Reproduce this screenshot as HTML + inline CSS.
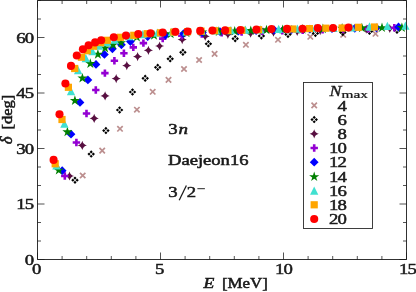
<!DOCTYPE html>
<html><head><meta charset="utf-8"><title>chart</title>
<style>html,body{margin:0;padding:0;background:#fff;}body{width:416px;height:292px;overflow:hidden;font-family:"Liberation Serif",serif;}svg{position:absolute;left:0;top:0;will-change:transform;}</style></head>
<body>
<svg width="416" height="292" viewBox="0 0 416 292" style="display:block">
<rect width="416" height="292" fill="#fff"/>
<g>
<path d="M80.00,172.80L85.40,178.20M80.00,178.20L85.40,172.80" stroke="#bc8f8f" stroke-width="1.7" fill="none"/>
<path d="M99.50,147.90L104.90,153.30M99.50,153.30L104.90,147.90" stroke="#bc8f8f" stroke-width="1.7" fill="none"/>
<path d="M117.30,126.10L122.70,131.50M117.30,131.50L122.70,126.10" stroke="#bc8f8f" stroke-width="1.7" fill="none"/>
<path d="M134.20,107.00L139.60,112.40M134.20,112.40L139.60,107.00" stroke="#bc8f8f" stroke-width="1.7" fill="none"/>
<path d="M150.00,89.10L155.40,94.50M150.00,94.50L155.40,89.10" stroke="#bc8f8f" stroke-width="1.7" fill="none"/>
<path d="M165.80,77.20L171.20,82.60M165.80,82.60L171.20,77.20" stroke="#bc8f8f" stroke-width="1.7" fill="none"/>
<path d="M181.30,66.30L186.70,71.70M181.30,71.70L186.70,66.30" stroke="#bc8f8f" stroke-width="1.7" fill="none"/>
<path d="M196.40,57.30L201.80,62.70M196.40,62.70L201.80,57.30" stroke="#bc8f8f" stroke-width="1.7" fill="none"/>
<path d="M211.90,51.20L217.30,56.60M211.90,56.60L217.30,51.20" stroke="#bc8f8f" stroke-width="1.7" fill="none"/>
<path d="M243.20,42.10L248.60,47.50M243.20,47.50L248.60,42.10" stroke="#bc8f8f" stroke-width="1.7" fill="none"/>
<path d="M275.30,37.10L280.70,42.50M275.30,42.50L280.70,37.10" stroke="#bc8f8f" stroke-width="1.7" fill="none"/>
<path d="M307.60,34.10L313.00,39.50M307.60,39.50L313.00,34.10" stroke="#bc8f8f" stroke-width="1.7" fill="none"/>
<path d="M340.50,32.10L345.90,37.50M340.50,37.50L345.90,32.10" stroke="#bc8f8f" stroke-width="1.7" fill="none"/>
<path d="M372.80,31.10L378.20,36.50M372.80,36.50L378.20,31.10" stroke="#bc8f8f" stroke-width="1.7" fill="none"/>
<path d="M75.00,176.45 L76.60,178.05 L75.00,179.65 L73.40,178.05ZM77.15,178.60 L78.75,180.20 L77.15,181.80 L75.55,180.20ZM75.00,180.75 L76.60,182.35 L75.00,183.95 L73.40,182.35ZM72.85,178.60 L74.45,180.20 L72.85,181.80 L71.25,180.20Z" fill="#000"/>
<path d="M91.20,150.35 L92.80,151.95 L91.20,153.55 L89.60,151.95ZM93.35,152.50 L94.95,154.10 L93.35,155.70 L91.75,154.10ZM91.20,154.65 L92.80,156.25 L91.20,157.85 L89.60,156.25ZM89.05,152.50 L90.65,154.10 L89.05,155.70 L87.45,154.10Z" fill="#000"/>
<path d="M105.90,126.85 L107.50,128.45 L105.90,130.05 L104.30,128.45ZM108.05,129.00 L109.65,130.60 L108.05,132.20 L106.45,130.60ZM105.90,131.15 L107.50,132.75 L105.90,134.35 L104.30,132.75ZM103.75,129.00 L105.35,130.60 L103.75,132.20 L102.15,130.60Z" fill="#000"/>
<path d="M119.60,106.25 L121.20,107.85 L119.60,109.45 L118.00,107.85ZM121.75,108.40 L123.35,110.00 L121.75,111.60 L120.15,110.00ZM119.60,110.55 L121.20,112.15 L119.60,113.75 L118.00,112.15ZM117.45,108.40 L119.05,110.00 L117.45,111.60 L115.85,110.00Z" fill="#000"/>
<path d="M132.50,88.25 L134.10,89.85 L132.50,91.45 L130.90,89.85ZM134.65,90.40 L136.25,92.00 L134.65,93.60 L133.05,92.00ZM132.50,92.55 L134.10,94.15 L132.50,95.75 L130.90,94.15ZM130.35,90.40 L131.95,92.00 L130.35,93.60 L128.75,92.00Z" fill="#000"/>
<path d="M145.20,74.55 L146.80,76.15 L145.20,77.75 L143.60,76.15ZM147.35,76.70 L148.95,78.30 L147.35,79.90 L145.75,78.30ZM145.20,78.85 L146.80,80.45 L145.20,82.05 L143.60,80.45ZM143.05,76.70 L144.65,78.30 L143.05,79.90 L141.45,78.30Z" fill="#000"/>
<path d="M157.70,63.55 L159.30,65.15 L157.70,66.75 L156.10,65.15ZM159.85,65.70 L161.45,67.30 L159.85,68.90 L158.25,67.30ZM157.70,67.85 L159.30,69.45 L157.70,71.05 L156.10,69.45ZM155.55,65.70 L157.15,67.30 L155.55,68.90 L153.95,67.30Z" fill="#000"/>
<path d="M170.20,55.05 L171.80,56.65 L170.20,58.25 L168.60,56.65ZM172.35,57.20 L173.95,58.80 L172.35,60.40 L170.75,58.80ZM170.20,59.35 L171.80,60.95 L170.20,62.55 L168.60,60.95ZM168.05,57.20 L169.65,58.80 L168.05,60.40 L166.45,58.80Z" fill="#000"/>
<path d="M182.90,48.55 L184.50,50.15 L182.90,51.75 L181.30,50.15ZM185.05,50.70 L186.65,52.30 L185.05,53.90 L183.45,52.30ZM182.90,52.85 L184.50,54.45 L182.90,56.05 L181.30,54.45ZM180.75,50.70 L182.35,52.30 L180.75,53.90 L179.15,52.30Z" fill="#000"/>
<path d="M208.40,40.05 L210.00,41.65 L208.40,43.25 L206.80,41.65ZM210.55,42.20 L212.15,43.80 L210.55,45.40 L208.95,43.80ZM208.40,44.35 L210.00,45.95 L208.40,47.55 L206.80,45.95ZM206.25,42.20 L207.85,43.80 L206.25,45.40 L204.65,43.80Z" fill="#000"/>
<path d="M235.20,34.95 L236.80,36.55 L235.20,38.15 L233.60,36.55ZM237.35,37.10 L238.95,38.70 L237.35,40.30 L235.75,38.70ZM235.20,39.25 L236.80,40.85 L235.20,42.45 L233.60,40.85ZM233.05,37.10 L234.65,38.70 L233.05,40.30 L231.45,38.70Z" fill="#000"/>
<path d="M261.40,32.15 L263.00,33.75 L261.40,35.35 L259.80,33.75ZM263.55,34.30 L265.15,35.90 L263.55,37.50 L261.95,35.90ZM261.40,36.45 L263.00,38.05 L261.40,39.65 L259.80,38.05ZM259.25,34.30 L260.85,35.90 L259.25,37.50 L257.65,35.90Z" fill="#000"/>
<path d="M288.00,30.65 L289.60,32.25 L288.00,33.85 L286.40,32.25ZM290.15,32.80 L291.75,34.40 L290.15,36.00 L288.55,34.40ZM288.00,34.95 L289.60,36.55 L288.00,38.15 L286.40,36.55ZM285.85,32.80 L287.45,34.40 L285.85,36.00 L284.25,34.40Z" fill="#000"/>
<path d="M315.40,29.65 L317.00,31.25 L315.40,32.85 L313.80,31.25ZM317.55,31.80 L319.15,33.40 L317.55,35.00 L315.95,33.40ZM315.40,33.95 L317.00,35.55 L315.40,37.15 L313.80,35.55ZM313.25,31.80 L314.85,33.40 L313.25,35.00 L311.65,33.40Z" fill="#000"/>
<path d="M342.80,28.65 L344.40,30.25 L342.80,31.85 L341.20,30.25ZM344.95,30.80 L346.55,32.40 L344.95,34.00 L343.35,32.40ZM342.80,32.95 L344.40,34.55 L342.80,36.15 L341.20,34.55ZM340.65,30.80 L342.25,32.40 L340.65,34.00 L339.05,32.40Z" fill="#000"/>
<path d="M369.50,27.55 L371.10,29.15 L369.50,30.75 L367.90,29.15ZM371.65,29.70 L373.25,31.30 L371.65,32.90 L370.05,31.30ZM369.50,31.85 L371.10,33.45 L369.50,35.05 L367.90,33.45ZM367.35,29.70 L368.95,31.30 L367.35,32.90 L365.75,31.30Z" fill="#000"/>
<path d="M397.00,26.55 L398.60,28.15 L397.00,29.75 L395.40,28.15ZM399.15,28.70 L400.75,30.30 L399.15,31.90 L397.55,30.30ZM397.00,30.85 L398.60,32.45 L397.00,34.05 L395.40,32.45ZM394.85,28.70 L396.45,30.30 L394.85,31.90 L393.25,30.30Z" fill="#000"/>
<path d="M69.50,171.40 Q70.40,175.10 74.10,176.00 Q70.40,176.90 69.50,180.60 Q68.60,176.90 64.90,176.00 Q68.60,175.10 69.50,171.40Z" fill="#580f41"/>
<path d="M82.30,140.80 Q83.20,144.50 86.90,145.40 Q83.20,146.30 82.30,150.00 Q81.40,146.30 77.70,145.40 Q81.40,144.50 82.30,140.80Z" fill="#580f41"/>
<path d="M94.20,113.80 Q95.10,117.50 98.80,118.40 Q95.10,119.30 94.20,123.00 Q93.30,119.30 89.60,118.40 Q93.30,117.50 94.20,113.80Z" fill="#580f41"/>
<path d="M105.10,91.30 Q106.00,95.00 109.70,95.90 Q106.00,96.80 105.10,100.50 Q104.20,96.80 100.50,95.90 Q104.20,95.00 105.10,91.30Z" fill="#580f41"/>
<path d="M116.20,74.00 Q117.10,77.70 120.80,78.60 Q117.10,79.50 116.20,83.20 Q115.30,79.50 111.60,78.60 Q115.30,77.70 116.20,74.00Z" fill="#580f41"/>
<path d="M126.80,61.00 Q127.70,64.70 131.40,65.60 Q127.70,66.50 126.80,70.20 Q125.90,66.50 122.20,65.60 Q125.90,64.70 126.80,61.00Z" fill="#580f41"/>
<path d="M137.60,52.00 Q138.50,55.70 142.20,56.60 Q138.50,57.50 137.60,61.20 Q136.70,57.50 133.00,56.60 Q136.70,55.70 137.60,52.00Z" fill="#580f41"/>
<path d="M148.40,45.70 Q149.30,49.40 153.00,50.30 Q149.30,51.20 148.40,54.90 Q147.50,51.20 143.80,50.30 Q147.50,49.40 148.40,45.70Z" fill="#580f41"/>
<path d="M159.60,41.40 Q160.50,45.10 164.20,46.00 Q160.50,46.90 159.60,50.60 Q158.70,46.90 155.00,46.00 Q158.70,45.10 159.60,41.40Z" fill="#580f41"/>
<path d="M182.20,35.00 Q183.10,38.70 186.80,39.60 Q183.10,40.50 182.20,44.20 Q181.30,40.50 177.60,39.60 Q181.30,38.70 182.20,35.00Z" fill="#580f41"/>
<path d="M205.20,31.70 Q206.10,35.40 209.80,36.30 Q206.10,37.20 205.20,40.90 Q204.30,37.20 200.60,36.30 Q204.30,35.40 205.20,31.70Z" fill="#580f41"/>
<path d="M227.90,29.70 Q228.80,33.40 232.50,34.30 Q228.80,35.20 227.90,38.90 Q227.00,35.20 223.30,34.30 Q227.00,33.40 227.90,29.70Z" fill="#580f41"/>
<path d="M250.60,28.60 Q251.50,32.30 255.20,33.20 Q251.50,34.10 250.60,37.80 Q249.70,34.10 246.00,33.20 Q249.70,32.30 250.60,28.60Z" fill="#580f41"/>
<path d="M273.50,27.60 Q274.40,31.30 278.10,32.20 Q274.40,33.10 273.50,36.80 Q272.60,33.10 268.90,32.20 Q272.60,31.30 273.50,27.60Z" fill="#580f41"/>
<path d="M297.20,26.80 Q298.10,30.50 301.80,31.40 Q298.10,32.30 297.20,36.00 Q296.30,32.30 292.60,31.40 Q296.30,30.50 297.20,26.80Z" fill="#580f41"/>
<path d="M320.20,26.00 Q321.10,29.70 324.80,30.60 Q321.10,31.50 320.20,35.20 Q319.30,31.50 315.60,30.60 Q319.30,29.70 320.20,26.00Z" fill="#580f41"/>
<path d="M343.50,25.30 Q344.40,29.00 348.10,29.90 Q344.40,30.80 343.50,34.50 Q342.60,30.80 338.90,29.90 Q342.60,29.00 343.50,25.30Z" fill="#580f41"/>
<path d="M366.20,24.60 Q367.10,28.30 370.80,29.20 Q367.10,30.10 366.20,33.80 Q365.30,30.10 361.60,29.20 Q365.30,28.30 366.20,24.60Z" fill="#580f41"/>
<path d="M389.80,23.90 Q390.70,27.60 394.40,28.50 Q390.70,29.40 389.80,33.10 Q388.90,29.40 385.20,28.50 Q388.90,27.60 389.80,23.90Z" fill="#580f41"/>
<path d="M63.50,172.30h2.6v2.4000000000000004h2.4000000000000004v2.6h-2.4000000000000004v2.4000000000000004h-2.6v-2.4000000000000004h-2.4000000000000004v-2.6h2.4000000000000004Z" fill="#9400d3"/>
<path d="M75.10,138.80h2.6v2.4000000000000004h2.4000000000000004v2.6h-2.4000000000000004v2.4000000000000004h-2.6v-2.4000000000000004h-2.4000000000000004v-2.6h2.4000000000000004Z" fill="#9400d3"/>
<path d="M85.20,109.80h2.6v2.4000000000000004h2.4000000000000004v2.6h-2.4000000000000004v2.4000000000000004h-2.6v-2.4000000000000004h-2.4000000000000004v-2.6h2.4000000000000004Z" fill="#9400d3"/>
<path d="M94.50,86.30h2.6v2.4000000000000004h2.4000000000000004v2.6h-2.4000000000000004v2.4000000000000004h-2.6v-2.4000000000000004h-2.4000000000000004v-2.6h2.4000000000000004Z" fill="#9400d3"/>
<path d="M103.60,69.40h2.6v2.4000000000000004h2.4000000000000004v2.6h-2.4000000000000004v2.4000000000000004h-2.6v-2.4000000000000004h-2.4000000000000004v-2.6h2.4000000000000004Z" fill="#9400d3"/>
<path d="M113.10,57.10h2.6v2.4000000000000004h2.4000000000000004v2.6h-2.4000000000000004v2.4000000000000004h-2.6v-2.4000000000000004h-2.4000000000000004v-2.6h2.4000000000000004Z" fill="#9400d3"/>
<path d="M122.60,49.50h2.6v2.4000000000000004h2.4000000000000004v2.6h-2.4000000000000004v2.4000000000000004h-2.6v-2.4000000000000004h-2.4000000000000004v-2.6h2.4000000000000004Z" fill="#9400d3"/>
<path d="M132.00,43.70h2.6v2.4000000000000004h2.4000000000000004v2.6h-2.4000000000000004v2.4000000000000004h-2.6v-2.4000000000000004h-2.4000000000000004v-2.6h2.4000000000000004Z" fill="#9400d3"/>
<path d="M142.10,39.40h2.6v2.4000000000000004h2.4000000000000004v2.6h-2.4000000000000004v2.4000000000000004h-2.6v-2.4000000000000004h-2.4000000000000004v-2.6h2.4000000000000004Z" fill="#9400d3"/>
<path d="M161.40,34.90h2.6v2.4000000000000004h2.4000000000000004v2.6h-2.4000000000000004v2.4000000000000004h-2.6v-2.4000000000000004h-2.4000000000000004v-2.6h2.4000000000000004Z" fill="#9400d3"/>
<path d="M180.50,32.10h2.6v2.4000000000000004h2.4000000000000004v2.6h-2.4000000000000004v2.4000000000000004h-2.6v-2.4000000000000004h-2.4000000000000004v-2.6h2.4000000000000004Z" fill="#9400d3"/>
<path d="M200.50,30.30h2.6v2.4000000000000004h2.4000000000000004v2.6h-2.4000000000000004v2.4000000000000004h-2.6v-2.4000000000000004h-2.4000000000000004v-2.6h2.4000000000000004Z" fill="#9400d3"/>
<path d="M220.40,29.20h2.6v2.4000000000000004h2.4000000000000004v2.6h-2.4000000000000004v2.4000000000000004h-2.6v-2.4000000000000004h-2.4000000000000004v-2.6h2.4000000000000004Z" fill="#9400d3"/>
<path d="M240.30,28.40h2.6v2.4000000000000004h2.4000000000000004v2.6h-2.4000000000000004v2.4000000000000004h-2.6v-2.4000000000000004h-2.4000000000000004v-2.6h2.4000000000000004Z" fill="#9400d3"/>
<path d="M261.00,27.70h2.6v2.4000000000000004h2.4000000000000004v2.6h-2.4000000000000004v2.4000000000000004h-2.6v-2.4000000000000004h-2.4000000000000004v-2.6h2.4000000000000004Z" fill="#9400d3"/>
<path d="M281.00,27.10h2.6v2.4000000000000004h2.4000000000000004v2.6h-2.4000000000000004v2.4000000000000004h-2.6v-2.4000000000000004h-2.4000000000000004v-2.6h2.4000000000000004Z" fill="#9400d3"/>
<path d="M301.40,26.60h2.6v2.4000000000000004h2.4000000000000004v2.6h-2.4000000000000004v2.4000000000000004h-2.6v-2.4000000000000004h-2.4000000000000004v-2.6h2.4000000000000004Z" fill="#9400d3"/>
<path d="M321.30,26.10h2.6v2.4000000000000004h2.4000000000000004v2.6h-2.4000000000000004v2.4000000000000004h-2.6v-2.4000000000000004h-2.4000000000000004v-2.6h2.4000000000000004Z" fill="#9400d3"/>
<path d="M342.00,25.70h2.6v2.4000000000000004h2.4000000000000004v2.6h-2.4000000000000004v2.4000000000000004h-2.6v-2.4000000000000004h-2.4000000000000004v-2.6h2.4000000000000004Z" fill="#9400d3"/>
<path d="M367.10,25.10h2.6v2.4000000000000004h2.4000000000000004v2.6h-2.4000000000000004v2.4000000000000004h-2.6v-2.4000000000000004h-2.4000000000000004v-2.6h2.4000000000000004Z" fill="#9400d3"/>
<path d="M393.00,24.10h2.6v2.4000000000000004h2.4000000000000004v2.6h-2.4000000000000004v2.4000000000000004h-2.6v-2.4000000000000004h-2.4000000000000004v-2.6h2.4000000000000004Z" fill="#9400d3"/>
<path d="M62.20,166.30 L66.60,170.70 L62.20,175.10 L57.80,170.70Z" fill="#0000ff"/>
<path d="M71.00,129.80 L75.40,134.20 L71.00,138.60 L66.60,134.20Z" fill="#0000ff"/>
<path d="M80.00,98.00 L84.40,102.40 L80.00,106.80 L75.60,102.40Z" fill="#0000ff"/>
<path d="M87.90,75.50 L92.30,79.90 L87.90,84.30 L83.50,79.90Z" fill="#0000ff"/>
<path d="M96.00,60.00 L100.40,64.40 L96.00,68.80 L91.60,64.40Z" fill="#0000ff"/>
<path d="M104.40,50.00 L108.80,54.40 L104.40,58.80 L100.00,54.40Z" fill="#0000ff"/>
<path d="M112.40,44.40 L116.80,48.80 L112.40,53.20 L108.00,48.80Z" fill="#0000ff"/>
<path d="M121.40,40.40 L125.80,44.80 L121.40,49.20 L117.00,44.80Z" fill="#0000ff"/>
<path d="M130.40,37.20 L134.80,41.60 L130.40,46.00 L126.00,41.60Z" fill="#0000ff"/>
<path d="M147.70,32.30 L152.10,36.70 L147.70,41.10 L143.30,36.70Z" fill="#0000ff"/>
<path d="M165.60,30.60 L170.00,35.00 L165.60,39.40 L161.20,35.00Z" fill="#0000ff"/>
<path d="M183.50,29.30 L187.90,33.70 L183.50,38.10 L179.10,33.70Z" fill="#0000ff"/>
<path d="M202.40,28.10 L206.80,32.50 L202.40,36.90 L198.00,32.50Z" fill="#0000ff"/>
<path d="M220.00,27.30 L224.40,31.70 L220.00,36.10 L215.60,31.70Z" fill="#0000ff"/>
<path d="M238.40,26.70 L242.80,31.10 L238.40,35.50 L234.00,31.10Z" fill="#0000ff"/>
<path d="M256.10,26.10 L260.50,30.50 L256.10,34.90 L251.70,30.50Z" fill="#0000ff"/>
<path d="M274.10,25.60 L278.50,30.00 L274.10,34.40 L269.70,30.00Z" fill="#0000ff"/>
<path d="M291.60,25.20 L296.00,29.60 L291.60,34.00 L287.20,29.60Z" fill="#0000ff"/>
<path d="M309.90,24.80 L314.30,29.20 L309.90,33.60 L305.50,29.20Z" fill="#0000ff"/>
<path d="M332.00,24.30 L336.40,28.70 L332.00,33.10 L327.60,28.70Z" fill="#0000ff"/>
<path d="M354.80,23.90 L359.20,28.30 L354.80,32.70 L350.40,28.30Z" fill="#0000ff"/>
<path d="M376.40,23.40 L380.80,27.80 L376.40,32.20 L372.00,27.80Z" fill="#0000ff"/>
<path d="M398.50,22.60 L402.90,27.00 L398.50,31.40 L394.10,27.00Z" fill="#0000ff"/>
<path d="M58.80,165.00 L60.00,168.64 L63.84,168.66 L60.75,170.93 L61.92,174.59 L58.80,172.35 L55.68,174.59 L56.85,170.93 L53.76,168.66 L57.60,168.64Z" fill="#008000"/>
<path d="M67.40,126.70 L68.60,130.34 L72.44,130.36 L69.35,132.63 L70.52,136.29 L67.40,134.05 L64.28,136.29 L65.45,132.63 L62.36,130.36 L66.20,130.34Z" fill="#008000"/>
<path d="M74.90,95.30 L76.10,98.94 L79.94,98.96 L76.85,101.23 L78.02,104.89 L74.90,102.65 L71.78,104.89 L72.95,101.23 L69.86,98.96 L73.70,98.94Z" fill="#008000"/>
<path d="M82.40,72.90 L83.60,76.54 L87.44,76.56 L84.35,78.83 L85.52,82.49 L82.40,80.25 L79.28,82.49 L80.45,78.83 L77.36,76.56 L81.20,76.54Z" fill="#008000"/>
<path d="M90.30,58.30 L91.50,61.94 L95.34,61.96 L92.25,64.23 L93.42,67.89 L90.30,65.65 L87.18,67.89 L88.35,64.23 L85.26,61.96 L89.10,61.94Z" fill="#008000"/>
<path d="M97.90,49.10 L99.10,52.74 L102.94,52.76 L99.85,55.03 L101.02,58.69 L97.90,56.45 L94.78,58.69 L95.95,55.03 L92.86,52.76 L96.70,52.74Z" fill="#008000"/>
<path d="M105.10,42.80 L106.30,46.44 L110.14,46.46 L107.05,48.73 L108.22,52.39 L105.10,50.15 L101.98,52.39 L103.15,48.73 L100.06,46.46 L103.90,46.44Z" fill="#008000"/>
<path d="M113.10,39.60 L114.30,43.24 L118.14,43.26 L115.05,45.53 L116.22,49.19 L113.10,46.95 L109.98,49.19 L111.15,45.53 L108.06,43.26 L111.90,43.24Z" fill="#008000"/>
<path d="M121.00,37.50 L122.20,41.14 L126.04,41.16 L122.95,43.43 L124.12,47.09 L121.00,44.85 L117.88,47.09 L119.05,43.43 L115.96,41.16 L119.80,41.14Z" fill="#008000"/>
<path d="M136.90,31.90 L138.10,35.54 L141.94,35.56 L138.85,37.83 L140.02,41.49 L136.90,39.25 L133.78,41.49 L134.95,37.83 L131.86,35.56 L135.70,35.54Z" fill="#008000"/>
<path d="M154.00,30.10 L155.20,33.74 L159.04,33.76 L155.95,36.03 L157.12,39.69 L154.00,37.45 L150.88,39.69 L152.05,36.03 L148.96,33.76 L152.80,33.74Z" fill="#008000"/>
<path d="M170.70,28.70 L171.90,32.34 L175.74,32.36 L172.65,34.63 L173.82,38.29 L170.70,36.05 L167.58,38.29 L168.75,34.63 L165.66,32.36 L169.50,32.34Z" fill="#008000"/>
<path d="M186.50,27.70 L187.70,31.34 L191.54,31.36 L188.45,33.63 L189.62,37.29 L186.50,35.05 L183.38,37.29 L184.55,33.63 L181.46,31.36 L185.30,31.34Z" fill="#008000"/>
<path d="M202.30,26.80 L203.50,30.44 L207.34,30.46 L204.25,32.73 L205.42,36.39 L202.30,34.15 L199.18,36.39 L200.35,32.73 L197.26,30.46 L201.10,30.44Z" fill="#008000"/>
<path d="M218.80,26.30 L220.00,29.94 L223.84,29.96 L220.75,32.23 L221.92,35.89 L218.80,33.65 L215.68,35.89 L216.85,32.23 L213.76,29.96 L217.60,29.94Z" fill="#008000"/>
<path d="M234.70,25.90 L235.90,29.54 L239.74,29.56 L236.65,31.83 L237.82,35.49 L234.70,33.25 L231.58,35.49 L232.75,31.83 L229.66,29.56 L233.50,29.54Z" fill="#008000"/>
<path d="M250.80,25.40 L252.00,29.04 L255.84,29.06 L252.75,31.33 L253.92,34.99 L250.80,32.75 L247.68,34.99 L248.85,31.33 L245.76,29.06 L249.60,29.04Z" fill="#008000"/>
<path d="M266.50,24.70 L267.70,28.34 L271.54,28.36 L268.45,30.63 L269.62,34.29 L266.50,32.05 L263.38,34.29 L264.55,30.63 L261.46,28.36 L265.30,28.34Z" fill="#008000"/>
<path d="M282.70,24.40 L283.90,28.04 L287.74,28.06 L284.65,30.33 L285.82,33.99 L282.70,31.75 L279.58,33.99 L280.75,30.33 L277.66,28.06 L281.50,28.04Z" fill="#008000"/>
<path d="M302.50,24.10 L303.70,27.74 L307.54,27.76 L304.45,30.03 L305.62,33.69 L302.50,31.45 L299.38,33.69 L300.55,30.03 L297.46,27.76 L301.30,27.74Z" fill="#008000"/>
<path d="M322.90,23.60 L324.10,27.24 L327.94,27.26 L324.85,29.53 L326.02,33.19 L322.90,30.95 L319.78,33.19 L320.95,29.53 L317.86,27.26 L321.70,27.24Z" fill="#008000"/>
<path d="M342.10,23.10 L343.30,26.74 L347.14,26.76 L344.05,29.03 L345.22,32.69 L342.10,30.45 L338.98,32.69 L340.15,29.03 L337.06,26.76 L340.90,26.74Z" fill="#008000"/>
<path d="M361.90,22.70 L363.10,26.34 L366.94,26.36 L363.85,28.63 L365.02,32.29 L361.90,30.05 L358.78,32.29 L359.95,28.63 L356.86,26.36 L360.70,26.34Z" fill="#008000"/>
<path d="M382.00,22.50 L383.20,26.14 L387.04,26.16 L383.95,28.43 L385.12,32.09 L382.00,29.85 L378.88,32.09 L380.05,28.43 L376.96,26.16 L380.80,26.14Z" fill="#008000"/>
<path d="M401.90,22.40 L403.10,26.04 L406.94,26.06 L403.85,28.33 L405.02,31.99 L401.90,29.75 L398.78,31.99 L399.95,28.33 L396.86,26.06 L400.70,26.04Z" fill="#008000"/>
<path d="M56.40,161.25 L60.55,169.55 L52.25,169.55Z" fill="#40e0d0"/>
<path d="M64.40,119.55 L68.55,127.85 L60.25,127.85Z" fill="#40e0d0"/>
<path d="M71.00,86.95 L75.15,95.25 L66.85,95.25Z" fill="#40e0d0"/>
<path d="M78.10,66.05 L82.25,74.35 L73.95,74.35Z" fill="#40e0d0"/>
<path d="M85.80,53.85 L89.95,62.15 L81.65,62.15Z" fill="#40e0d0"/>
<path d="M92.40,46.85 L96.55,55.15 L88.25,55.15Z" fill="#40e0d0"/>
<path d="M99.30,41.35 L103.45,49.65 L95.15,49.65Z" fill="#40e0d0"/>
<path d="M107.20,37.85 L111.35,46.15 L103.05,46.15Z" fill="#40e0d0"/>
<path d="M114.60,35.35 L118.75,43.65 L110.45,43.65Z" fill="#40e0d0"/>
<path d="M129.10,32.05 L133.25,40.35 L124.95,40.35Z" fill="#40e0d0"/>
<path d="M142.80,30.05 L146.95,38.35 L138.65,38.35Z" fill="#40e0d0"/>
<path d="M157.40,28.45 L161.55,36.75 L153.25,36.75Z" fill="#40e0d0"/>
<path d="M171.90,27.65 L176.05,35.95 L167.75,35.95Z" fill="#40e0d0"/>
<path d="M186.40,27.15 L190.55,35.45 L182.25,35.45Z" fill="#40e0d0"/>
<path d="M201.50,26.55 L205.65,34.85 L197.35,34.85Z" fill="#40e0d0"/>
<path d="M216.10,26.15 L220.25,34.45 L211.95,34.45Z" fill="#40e0d0"/>
<path d="M230.90,25.95 L235.05,34.25 L226.75,34.25Z" fill="#40e0d0"/>
<path d="M245.40,25.55 L249.55,33.85 L241.25,33.85Z" fill="#40e0d0"/>
<path d="M260.40,25.15 L264.55,33.45 L256.25,33.45Z" fill="#40e0d0"/>
<path d="M278.70,24.65 L282.85,32.95 L274.55,32.95Z" fill="#40e0d0"/>
<path d="M297.40,24.45 L301.55,32.75 L293.25,32.75Z" fill="#40e0d0"/>
<path d="M315.20,23.75 L319.35,32.05 L311.05,32.05Z" fill="#40e0d0"/>
<path d="M333.40,23.75 L337.55,32.05 L329.25,32.05Z" fill="#40e0d0"/>
<path d="M351.60,23.25 L355.75,31.55 L347.45,31.55Z" fill="#40e0d0"/>
<path d="M369.50,22.35 L373.65,30.65 L365.35,30.65Z" fill="#40e0d0"/>
<path d="M387.40,21.65 L391.55,29.95 L383.25,29.95Z" fill="#40e0d0"/>
<path d="M405.40,21.45 L409.55,29.75 L401.25,29.75Z" fill="#40e0d0"/>
<rect x="51.60" y="160.20" width="7.2" height="7.2" fill="#ffa500"/>
<rect x="58.40" y="115.90" width="7.2" height="7.2" fill="#ffa500"/>
<rect x="64.80" y="83.70" width="7.2" height="7.2" fill="#ffa500"/>
<rect x="71.10" y="64.90" width="7.2" height="7.2" fill="#ffa500"/>
<rect x="77.80" y="53.60" width="7.2" height="7.2" fill="#ffa500"/>
<rect x="83.70" y="47.10" width="7.2" height="7.2" fill="#ffa500"/>
<rect x="90.00" y="42.60" width="7.2" height="7.2" fill="#ffa500"/>
<rect x="97.10" y="39.00" width="7.2" height="7.2" fill="#ffa500"/>
<rect x="103.70" y="36.70" width="7.2" height="7.2" fill="#ffa500"/>
<rect x="116.90" y="33.70" width="7.2" height="7.2" fill="#ffa500"/>
<rect x="130.20" y="31.70" width="7.2" height="7.2" fill="#ffa500"/>
<rect x="143.60" y="30.10" width="7.2" height="7.2" fill="#ffa500"/>
<rect x="156.90" y="29.20" width="7.2" height="7.2" fill="#ffa500"/>
<rect x="170.20" y="28.50" width="7.2" height="7.2" fill="#ffa500"/>
<rect x="184.00" y="28.10" width="7.2" height="7.2" fill="#ffa500"/>
<rect x="197.40" y="27.50" width="7.2" height="7.2" fill="#ffa500"/>
<rect x="211.00" y="27.10" width="7.2" height="7.2" fill="#ffa500"/>
<rect x="224.30" y="26.90" width="7.2" height="7.2" fill="#ffa500"/>
<rect x="238.20" y="26.70" width="7.2" height="7.2" fill="#ffa500"/>
<rect x="255.00" y="26.10" width="7.2" height="7.2" fill="#ffa500"/>
<rect x="289.20" y="25.40" width="7.2" height="7.2" fill="#ffa500"/>
<rect x="305.80" y="25.00" width="7.2" height="7.2" fill="#ffa500"/>
<rect x="322.30" y="24.60" width="7.2" height="7.2" fill="#ffa500"/>
<rect x="338.50" y="24.40" width="7.2" height="7.2" fill="#ffa500"/>
<rect x="354.70" y="23.70" width="7.2" height="7.2" fill="#ffa500"/>
<rect x="370.90" y="23.40" width="7.2" height="7.2" fill="#ffa500"/>
<circle cx="53.6" cy="159.9" r="4.05" fill="#ff0000"/>
<circle cx="59.5" cy="114.3" r="4.05" fill="#ff0000"/>
<circle cx="65.4" cy="83.5" r="4.05" fill="#ff0000"/>
<circle cx="71" cy="65.9" r="4.05" fill="#ff0000"/>
<circle cx="76.8" cy="55.5" r="4.05" fill="#ff0000"/>
<circle cx="82.9" cy="49.3" r="4.05" fill="#ff0000"/>
<circle cx="88.6" cy="45.2" r="4.05" fill="#ff0000"/>
<circle cx="95.1" cy="42.4" r="4.05" fill="#ff0000"/>
<circle cx="101.2" cy="40.2" r="4.05" fill="#ff0000"/>
<circle cx="113.8" cy="37.3" r="4.05" fill="#ff0000"/>
<circle cx="126" cy="35.6" r="4.05" fill="#ff0000"/>
<circle cx="138.3" cy="34.1" r="4.05" fill="#ff0000"/>
<circle cx="150.5" cy="33.3" r="4.05" fill="#ff0000"/>
<circle cx="162.7" cy="32.5" r="4.05" fill="#ff0000"/>
<circle cx="175.4" cy="31.8" r="4.05" fill="#ff0000"/>
<circle cx="187.7" cy="31.5" r="4.05" fill="#ff0000"/>
<circle cx="200.2" cy="30.9" r="4.05" fill="#ff0000"/>
<circle cx="212.4" cy="30.5" r="4.05" fill="#ff0000"/>
<circle cx="225.1" cy="30.4" r="4.05" fill="#ff0000"/>
<circle cx="240.5" cy="30.1" r="4.05" fill="#ff0000"/>
<circle cx="256.4" cy="29.6" r="4.05" fill="#ff0000"/>
<circle cx="271.5" cy="29.1" r="4.05" fill="#ff0000"/>
<circle cx="287" cy="28.9" r="4.05" fill="#ff0000"/>
<circle cx="302.5" cy="28.7" r="4.05" fill="#ff0000"/>
<circle cx="317.8" cy="28" r="4.05" fill="#ff0000"/>
<circle cx="333.1" cy="28" r="4.05" fill="#ff0000"/>
<circle cx="348.5" cy="27.6" r="4.05" fill="#ff0000"/>
</g>
<path d="M37.5,0.5V259.5H406.5V0.5Z" stroke="#1a1a1a" stroke-width="0.9" fill="none"/>
<path d="M37.50,259.5v-7M37.50,0.5v7M62.10,259.5v-3.5M62.10,0.5v3.5M86.70,259.5v-3.5M86.70,0.5v3.5M111.30,259.5v-3.5M111.30,0.5v3.5M135.90,259.5v-3.5M135.90,0.5v3.5M160.50,259.5v-7M160.50,0.5v7M185.10,259.5v-3.5M185.10,0.5v3.5M209.70,259.5v-3.5M209.70,0.5v3.5M234.30,259.5v-3.5M234.30,0.5v3.5M258.90,259.5v-3.5M258.90,0.5v3.5M283.50,259.5v-7M283.50,0.5v7M308.10,259.5v-3.5M308.10,0.5v3.5M332.70,259.5v-3.5M332.70,0.5v3.5M357.30,259.5v-3.5M357.30,0.5v3.5M381.90,259.5v-3.5M381.90,0.5v3.5M406.50,259.5v-7M406.50,0.5v7M37.5,259.50h7M406.5,259.50h-7M37.5,241.00h3.5M406.5,241.00h-3.5M37.5,222.50h3.5M406.5,222.50h-3.5M37.5,204.00h7M406.5,204.00h-7M37.5,185.50h3.5M406.5,185.50h-3.5M37.5,167.00h3.5M406.5,167.00h-3.5M37.5,148.50h7M406.5,148.50h-7M37.5,130.00h3.5M406.5,130.00h-3.5M37.5,111.50h3.5M406.5,111.50h-3.5M37.5,93.00h7M406.5,93.00h-7M37.5,74.50h3.5M406.5,74.50h-3.5M37.5,56.00h3.5M406.5,56.00h-3.5M37.5,37.50h7M406.5,37.50h-7M37.5,19.00h3.5M406.5,19.00h-3.5M37.5,0.50h3.5M406.5,0.50h-3.5" stroke="#1a1a1a" stroke-width="0.75" fill="none"/>
<g font-family="'Liberation Serif', serif" fill="#1a1a1a">
<text transform="translate(24.79,264.60) scale(1.250,1)" font-size="15" letter-spacing="-0.74" stroke="#1a1a1a" stroke-width="0.5">0</text>
<text transform="translate(16.34,209.10) scale(1.250,1)" font-size="15" letter-spacing="-0.74" stroke="#1a1a1a" stroke-width="0.5">15</text>
<text transform="translate(16.34,153.60) scale(1.250,1)" font-size="15" letter-spacing="-0.74" stroke="#1a1a1a" stroke-width="0.5">30</text>
<text transform="translate(16.34,98.10) scale(1.250,1)" font-size="15" letter-spacing="-0.74" stroke="#1a1a1a" stroke-width="0.5">45</text>
<text transform="translate(16.34,42.60) scale(1.250,1)" font-size="15" letter-spacing="-0.74" stroke="#1a1a1a" stroke-width="0.5">60</text>
<text transform="translate(31.91,274.10) scale(1.250,1)" font-size="15" letter-spacing="-0.74" stroke="#1a1a1a" stroke-width="0.5">0</text>
<text transform="translate(154.91,274.10) scale(1.250,1)" font-size="15" letter-spacing="-0.74" stroke="#1a1a1a" stroke-width="0.5">5</text>
<text transform="translate(274.99,274.10) scale(1.250,1)" font-size="15" letter-spacing="-0.74" stroke="#1a1a1a" stroke-width="0.5">10</text>
<text transform="translate(398.99,274.10) scale(1.250,1)" font-size="15" letter-spacing="-0.74" stroke="#1a1a1a" stroke-width="0.5">15</text>
<text transform="translate(168.24,134.30) scale(1.250,1)" font-size="15" letter-spacing="-0.74" stroke="#1a1a1a" stroke-width="0.5">3</text>
<text transform="translate(178.50,134.30) scale(1.270,1)" font-size="15" font-style="italic" stroke="#1a1a1a" stroke-width="0.55">n</text>
<text transform="translate(168.00,165.30) scale(1.240,1)" font-size="15" stroke="#1a1a1a" stroke-width="0.55">Daejeon16</text>
<text transform="translate(168.24,197.40) scale(1.250,1)" font-size="15" letter-spacing="-0.74" stroke="#1a1a1a" stroke-width="0.5">3</text>
<path d="M179.2,200.3L186.4,185.6" stroke="#1a1a1a" stroke-width="1.25" fill="none"/>
<text transform="translate(186.84,197.40) scale(1.250,1)" font-size="15" letter-spacing="-0.74" stroke="#1a1a1a" stroke-width="0.5">2</text>
<path d="M197.4,188.7H204.9" stroke="#1a1a1a" stroke-width="0.95" fill="none"/>
<text transform="translate(203.40,287.50) scale(1.180,1)" font-size="15" font-style="italic" stroke="#1a1a1a" stroke-width="0.55">E</text>
<text transform="translate(221.90,287.50) scale(1.090,1)" font-size="15.5" stroke="#1a1a1a" stroke-width="0.55">[MeV]</text>
<text transform="translate(12.10,144.30) rotate(-90) scale(1.050,1)" font-size="16" font-style="italic" stroke="#1a1a1a" stroke-width="0.55">δ</text>
<text transform="translate(12.10,129.60) rotate(-90) scale(1.070,1)" font-size="15.5" stroke="#1a1a1a" stroke-width="0.55">[deg]</text>
</g>
<rect x="303.5" y="82.5" width="69" height="146" fill="#fff" stroke="#2a2a2a" stroke-width="0.9"/>
<g font-family="'Liberation Serif', serif" fill="#1a1a1a">
<text transform="translate(329.40,96.40) scale(1.190,1)" font-size="15" font-style="italic" stroke="#1a1a1a" stroke-width="0.35">N</text>
<text transform="translate(341.60,98.00) scale(1.460,1)" font-size="10.5" stroke="#1a1a1a" stroke-width="0.25">max</text>
<path d="M311.50,102.70L316.90,108.10M311.50,108.10L316.90,102.70" stroke="#bc8f8f" stroke-width="1.7" fill="none"/>
<text transform="translate(337.39,110.50) scale(1.250,1)" font-size="15" letter-spacing="-0.74" stroke="#1a1a1a" stroke-width="0.5">4</text>
<path d="M314.20,115.85 L315.80,117.45 L314.20,119.05 L312.60,117.45ZM316.35,118.00 L317.95,119.60 L316.35,121.20 L314.75,119.60ZM314.20,120.15 L315.80,121.75 L314.20,123.35 L312.60,121.75ZM312.05,118.00 L313.65,119.60 L312.05,121.20 L310.45,119.60Z" fill="#000"/>
<text transform="translate(337.39,124.70) scale(1.250,1)" font-size="15" letter-spacing="-0.74" stroke="#1a1a1a" stroke-width="0.5">6</text>
<path d="M314.20,129.20 Q315.10,132.90 318.80,133.80 Q315.10,134.70 314.20,138.40 Q313.30,134.70 309.60,133.80 Q313.30,132.90 314.20,129.20Z" fill="#580f41"/>
<text transform="translate(337.39,138.90) scale(1.250,1)" font-size="15" letter-spacing="-0.74" stroke="#1a1a1a" stroke-width="0.5">8</text>
<path d="M312.90,144.30h2.6v2.4000000000000004h2.4000000000000004v2.6h-2.4000000000000004v2.4000000000000004h-2.6v-2.4000000000000004h-2.4000000000000004v-2.6h2.4000000000000004Z" fill="#9400d3"/>
<text transform="translate(328.94,153.10) scale(1.250,1)" font-size="15" letter-spacing="-0.74" stroke="#1a1a1a" stroke-width="0.5">10</text>
<path d="M314.20,157.80 L318.60,162.20 L314.20,166.60 L309.80,162.20Z" fill="#0000ff"/>
<text transform="translate(328.94,167.30) scale(1.250,1)" font-size="15" letter-spacing="-0.74" stroke="#1a1a1a" stroke-width="0.5">12</text>
<path d="M314.20,171.50 L315.40,175.14 L319.24,175.16 L316.15,177.43 L317.32,181.09 L314.20,178.85 L311.08,181.09 L312.25,177.43 L309.16,175.16 L313.00,175.14Z" fill="#008000"/>
<text transform="translate(328.94,181.50) scale(1.250,1)" font-size="15" letter-spacing="-0.74" stroke="#1a1a1a" stroke-width="0.5">14</text>
<path d="M314.20,186.45 L318.35,194.75 L310.05,194.75Z" fill="#40e0d0"/>
<text transform="translate(328.94,195.70) scale(1.250,1)" font-size="15" letter-spacing="-0.74" stroke="#1a1a1a" stroke-width="0.5">16</text>
<rect x="310.60" y="201.20" width="7.2" height="7.2" fill="#ffa500"/>
<text transform="translate(328.94,209.90) scale(1.250,1)" font-size="15" letter-spacing="-0.74" stroke="#1a1a1a" stroke-width="0.5">18</text>
<circle cx="314.2" cy="219.0" r="4.05" fill="#ff0000"/>
<text transform="translate(328.94,224.10) scale(1.250,1)" font-size="15" letter-spacing="-0.74" stroke="#1a1a1a" stroke-width="0.5">20</text>
</g>
</svg>
</body></html>
